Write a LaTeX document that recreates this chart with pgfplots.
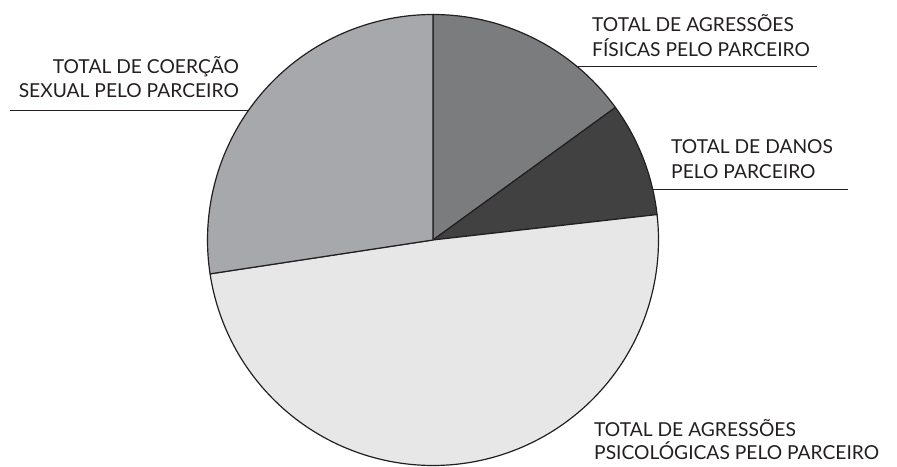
\documentclass[border=0pt]{standalone}
\usepackage{pgfplots}
\pgfplotsset{compat=1.18}
\usepackage{fontspec}
\setmainfont{Lato}
\definecolor{cfis}{HTML}{7B7C7E}
\definecolor{cdan}{HTML}{414141}
\definecolor{cpsi}{HTML}{E6E7E6}
\definecolor{ccoe}{HTML}{A7A8AB}
\definecolor{cedge}{HTML}{231F20}
% slice values (percent), clockwise from 12 o'clock
\def\vFis{15.0}
\def\vDan{8.2}
\def\vPsi{49.4}
\def\vCoe{27.4}
\def\cx{433}
\def\cy{226}
\def\rr{225.5}
\pgfmathsetmacro{\aA}{90}
\pgfmathsetmacro{\aB}{\aA-3.6*\vFis}
\pgfmathsetmacro{\aC}{\aB-3.6*\vDan}
\pgfmathsetmacro{\aD}{\aC-3.6*\vPsi}
\pgfmathsetmacro{\aE}{\aD-3.6*\vCoe}
\begin{document}
\begin{tikzpicture}
\begin{axis}[
  scale only axis, width=897bp, height=466bp,
  xmin=0, xmax=897, ymin=0, ymax=466,
  hide axis, clip=false,
  every axis plot/.append style={line join=round},
]
\addplot[draw=none, forget plot] coordinates {(0,0) (897,466)};
\addplot[fill=cfis, draw=cedge, line width=1.2pt, domain=\aB:\aA, samples=80, variable=\t]
  ({\cx+\rr*cos(\t)}, {\cy+\rr*sin(\t)}) -- (axis cs:\cx,\cy) -- cycle;
\addplot[fill=cdan, draw=cedge, line width=1.2pt, domain=\aC:\aB, samples=60, variable=\t]
  ({\cx+\rr*cos(\t)}, {\cy+\rr*sin(\t)}) -- (axis cs:\cx,\cy) -- cycle;
\addplot[fill=cpsi, draw=cedge, line width=1.2pt, domain=\aD:\aC, samples=200, variable=\t]
  ({\cx+\rr*cos(\t)}, {\cy+\rr*sin(\t)}) -- (axis cs:\cx,\cy) -- cycle;
\addplot[fill=ccoe, draw=cedge, line width=1.2pt, domain=\aE:\aD, samples=120, variable=\t]
  ({\cx+\rr*cos(\t)}, {\cy+\rr*sin(\t)}) -- (axis cs:\cx,\cy) -- cycle;
% label underlines
\addplot[cedge, line width=0.9pt] coordinates {(577,399.3) (817,399.3)};
\addplot[cedge, line width=0.9pt] coordinates {(652.7,277) (848,277)};
\addplot[cedge, line width=0.9pt] coordinates {(10,355.3) (248.3,355.3)};
% labels
\tikzset{lab/.style={text=cedge, inner sep=0pt, font=\fontsize{19.3}{22}\selectfont}}
\node[lab, anchor=base west] at (axis cs:592,434.3) {TOTAL DE AGRESSÕES};
\node[lab, anchor=base west] at (axis cs:592,409.3) {FÍSICAS PELO PARCEIRO};
\node[lab, anchor=base west] at (axis cs:671,312) {TOTAL DE DANOS};
\node[lab, anchor=base west] at (axis cs:671,287.7) {PELO PARCEIRO};
\node[lab, anchor=base east] at (axis cs:239,392) {TOTAL DE COERÇÃO};
\node[lab, anchor=base east] at (axis cs:239,368.3) {SEXUAL PELO PARCEIRO};
\node[lab, anchor=base west] at (axis cs:594,29.3) {TOTAL DE AGRESSÕES};
\node[lab, anchor=base west] at (axis cs:594,6) {PSICOLÓGICAS PELO PARCEIRO};
\end{axis}
\end{tikzpicture}
\end{document}
